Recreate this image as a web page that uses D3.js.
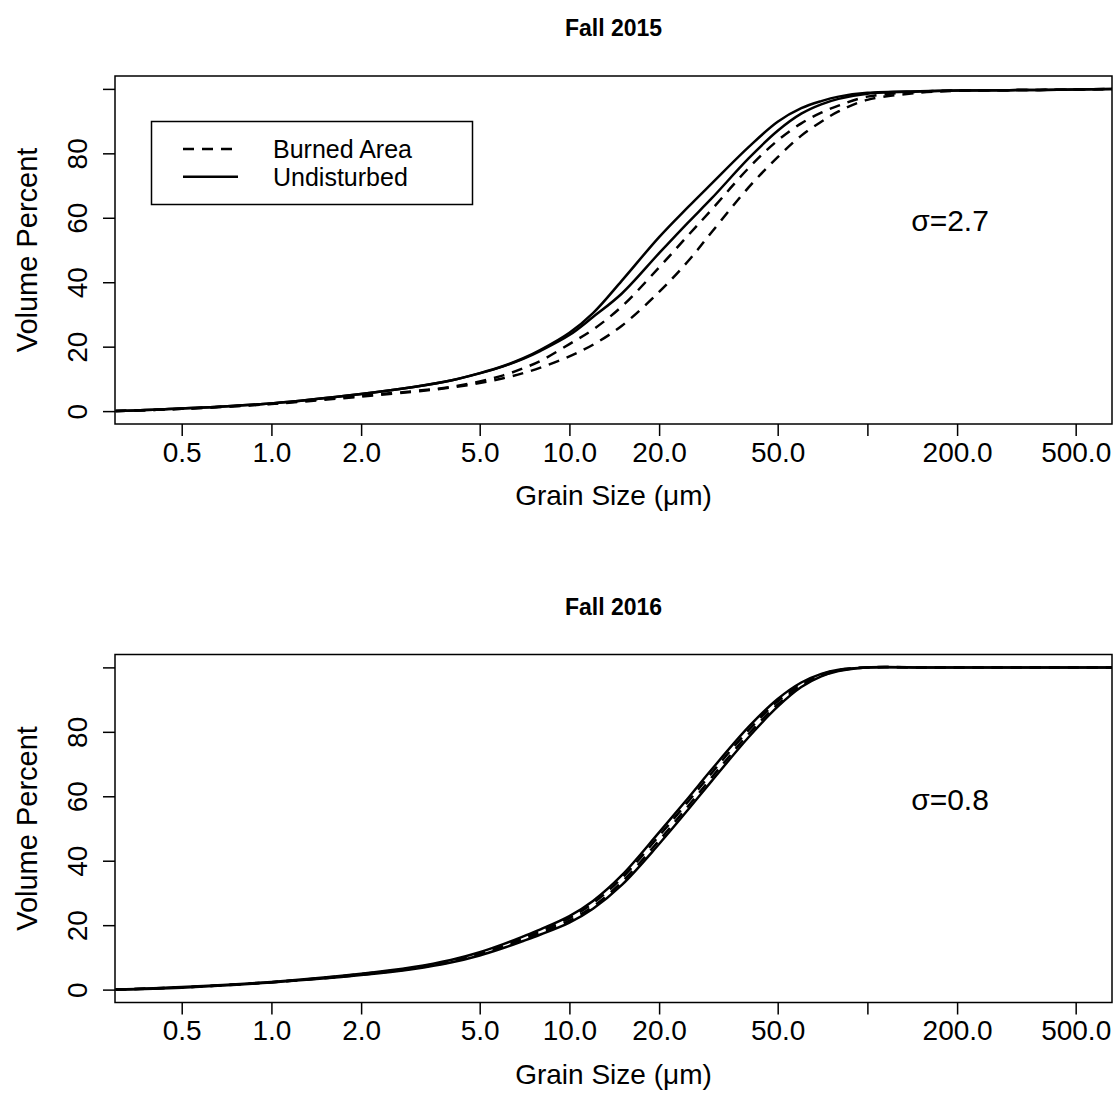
<!DOCTYPE html>
<html>
<head>
<meta charset="utf-8">
<script src="https://cdn.jsdelivr.net/npm/d3@7"></script>
<style>
  body { margin: 0; background: #fff; }
  text { font-family: 'Liberation Sans', Arial, sans-serif; fill: #000; }
</style>
</head>
<body>
<svg id="vis" width="1117" height="1097"></svg>
<script>
const grainSizes = [0.3, 0.5, 1, 2, 3, 4, 5, 6, 7, 8, 10, 12, 15, 20, 25, 30, 40, 50, 60, 70, 80, 100, 150, 200, 300, 500, 700];

// Fall 2015
const burned2015a = [0, 0.7, 2.3, 4.8, 6.2, 7.5, 9.2, 11.1, 13.3, 15.6, 20.8, 25.3, 32.5, 44.6, 54.5, 62.5, 75.5, 84.0, 89.3, 92.6, 94.8, 97.6, 99.1, 99.5, 99.6, 99.8, 100];
const burned2015b = [0, 0.7, 2.2, 4.5, 6.0, 7.3, 8.7, 10.2, 11.8, 13.5, 17.0, 20.6, 26.5, 37.0, 46.5, 55.5, 69.5, 78.8, 85.5, 89.8, 93.0, 96.6, 98.8, 99.4, 99.6, 99.8, 100];
const undist2015a = [0, 0.8, 2.4, 5.3, 7.5, 9.5, 11.8, 14.0, 16.4, 19.0, 24.3, 30.4, 40.5, 54.0, 63.3, 70.6, 82.0, 89.8, 94.0, 96.2, 97.6, 98.8, 99.3, 99.5, 99.6, 99.8, 100];
const undist2015b = [0, 0.8, 2.4, 5.3, 7.5, 9.5, 11.7, 13.9, 16.2, 18.7, 23.6, 29.2, 36.5, 49.0, 58.5, 66.0, 78.5, 87.0, 92.3, 95.2, 96.9, 98.5, 99.2, 99.5, 99.6, 99.8, 100];

// Fall 2016
const burned2016a = [0, 0.7, 2.3, 4.8, 6.8, 8.9, 11.2, 13.7, 16.1, 18.2, 22.2, 26.8, 34.6, 47.7, 58.3, 67.2, 80.6, 89.5, 94.9, 97.8, 99.2, 100, 100, 100, 100, 100, 100];
const burned2016b = [0, 0.7, 2.3, 4.6, 6.6, 8.6, 10.9, 13.3, 15.5, 17.6, 21.4, 25.8, 33.4, 46.3, 56.9, 65.8, 79.4, 88.5, 94.3, 97.4, 99.0, 100, 100, 100, 100, 100, 100];
const undist2016a = [0, 0.8, 2.4, 4.9, 7.0, 9.2, 11.6, 14.1, 16.5, 18.7, 22.8, 27.5, 35.5, 48.8, 59.4, 68.3, 81.6, 90.2, 95.3, 98.0, 99.3, 100, 100, 100, 100, 100, 100];
const undist2016b = [0, 0.6, 2.2, 4.5, 6.4, 8.4, 10.6, 12.9, 15.1, 17.1, 20.8, 25.1, 32.5, 45.2, 55.8, 64.7, 78.4, 87.8, 93.9, 97.2, 98.9, 100, 100, 100, 100, 100, 100];

const xTicks = [0.5, 1, 2, 5, 10, 20, 50, 100, 200, 500];
const xTickLabels = ['0.5', '1.0', '2.0', '5.0', '10.0', '20.0', '50.0', '', '200.0', '500.0'];
const yTicks = [0, 20, 40, 60, 80, 100];
const yTickLabels = ['0', '20', '40', '60', '80', ''];

const panels = [
  { title: 'Fall 2015', sigma: 'σ=2.7', legend: true,
    burned: [burned2015a, burned2015b], undist: [undist2015a, undist2015b] },
  { title: 'Fall 2016', sigma: 'σ=0.8', legend: false,
    burned: [burned2016a, burned2016b], undist: [undist2016a, undist2016b] },
];

const svg = d3.select('#vis');
const plotLeft = 115;
const plotRight = 1112;
const plotH = 348;
const panelTops = [76, 654.5];
const dash = '11,8';

const x = d3
  .scaleLog()
  .domain([0.2986, 662])
  .range([plotLeft, plotRight]);

panels.forEach((p, i) => {
  const top = panelTops[i];
  const bottom = top + plotH;
  const y = d3.scaleLinear().domain([-4, 104]).range([bottom, top]);

  const g = svg.append('g');

  // clip for curves
  svg
    .append('clipPath')
    .attr('id', 'clip' + i)
    .append('rect')
    .attr('x', plotLeft)
    .attr('y', top)
    .attr('width', plotRight - plotLeft)
    .attr('height', plotH);

  const line = d3
    .line()
    .x((d, j) => x(grainSizes[j]))
    .y(d => y(d))
    .curve(d3.curveCatmullRom.alpha(0.5));

  const curves = g.append('g').attr('clip-path', `url(#clip${i})`);
  p.undist.forEach(s => {
    curves
      .append('path')
      .attr('d', line(s))
      .attr('fill', 'none')
      .attr('stroke', '#000')
      .attr('stroke-width', 2.5);
  });
  p.burned.forEach(s => {
    curves
      .append('path')
      .attr('d', line(s))
      .attr('fill', 'none')
      .attr('stroke', '#000')
      .attr('stroke-width', 2.5)
      .attr('stroke-dasharray', dash);
  });

  // x axis
  const xAxis = g
    .append('g')
    .attr('transform', `translate(0,${bottom})`)
    .call(
      d3
        .axisBottom(x)
        .tickValues(xTicks)
        .tickFormat((d, j) => xTickLabels[j])
        .tickSize(12)
        .tickPadding(6)
    );
  xAxis.select('.domain').remove();
  xAxis.selectAll('line').attr('stroke-width', 1.5);
  xAxis
    .selectAll('text')
    .style('font-family', "'Liberation Sans', Arial, sans-serif")
    .style('font-size', '28px')
    .attr('fill', '#000');

  // y axis
  const yAxis = g
    .append('g')
    .attr('transform', `translate(${plotLeft},0)`)
    .call(
      d3
        .axisLeft(y)
        .tickValues(yTicks)
        .tickFormat((d, j) => yTickLabels[j])
        .tickSize(12)
    );
  yAxis.select('.domain').remove();
  yAxis.selectAll('line').attr('stroke-width', 1.5);
  yAxis
    .selectAll('text')
    .attr('x', 0)
    .attr('y', -28)
    .attr('dy', 0)
    .attr('transform', 'rotate(-90)')
    .attr('text-anchor', 'middle')
    .style('font-family', "'Liberation Sans', Arial, sans-serif")
    .style('font-size', '28px')
    .attr('fill', '#000');

  // box
  g.append('rect')
    .attr('x', plotLeft)
    .attr('y', top)
    .attr('width', plotRight - plotLeft)
    .attr('height', plotH)
    .attr('fill', 'none')
    .attr('stroke', '#000')
    .attr('stroke-width', 1.5);

  // titles
  g.append('text')
    .attr('x', (plotLeft + plotRight) / 2)
    .attr('y', top - 40)
    .attr('text-anchor', 'middle')
    .style('font-size', '23px')
    .style('font-weight', 'bold')
    .text(p.title);

  g.append('text')
    .attr('x', (plotLeft + plotRight) / 2)
    .attr('y', bottom + 81)
    .attr('text-anchor', 'middle')
    .style('font-size', '28px')
    .text('Grain Size (μm)');

  g.append('text')
    .attr('transform', `translate(37,${(top + bottom) / 2}) rotate(-90)`)
    .attr('text-anchor', 'middle')
    .style('font-size', '29px')
    .text('Volume Percent');

  g.append('text')
    .attr('x', 950)
    .attr('y', top + 155)
    .attr('text-anchor', 'middle')
    .style('font-size', '30px')
    .text(p.sigma);

  if (p.legend) {
    const lg = g.append('g');
    lg.append('rect')
      .attr('x', 151.5)
      .attr('y', top + 45.5)
      .attr('width', 321)
      .attr('height', 83)
      .attr('fill', '#fff')
      .attr('stroke', '#000')
      .attr('stroke-width', 1.5);
    const items = [['Burned Area', dash], ['Undisturbed', null]];
    items.forEach((it, k) => {
      const ly = top + 73 + k * 27.7;
      lg.append('line')
        .attr('x1', 183)
        .attr('x2', 238)
        .attr('y1', ly)
        .attr('y2', ly)
        .attr('stroke', '#000')
        .attr('stroke-width', 2.5)
        .attr('stroke-dasharray', it[1]);
      lg.append('text')
        .attr('x', 273)
        .attr('y', ly + 9)
        .style('font-size', '25px')
        .text(it[0]);
    });
  }
});
</script>
</body>
</html>
